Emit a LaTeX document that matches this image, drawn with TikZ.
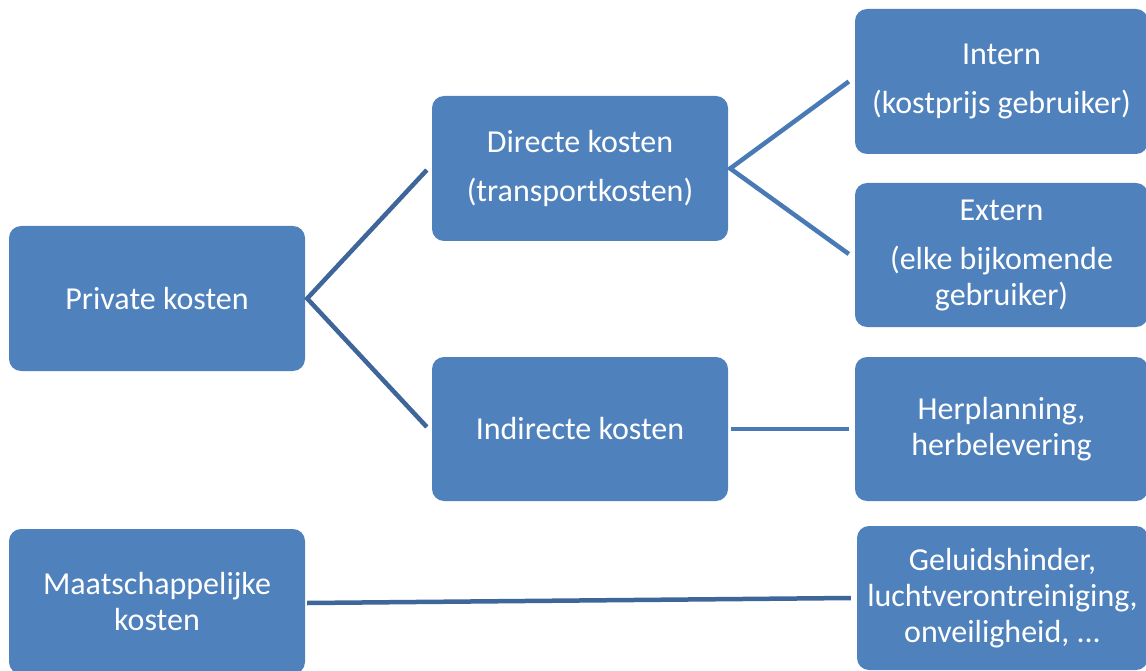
\documentclass[tikz,border=0pt]{standalone}
\usepackage{fontspec}
\setmainfont{Carlito}
\definecolor{boxblue}{HTML}{4F81BD}
\definecolor{linedark}{HTML}{3E6699}
\definecolor{linelight}{HTML}{4A7AB6}
\begin{document}
\begin{tikzpicture}[x=1pt,y=-1pt,
  box/.style={rectangle, rounded corners=12pt, fill=boxblue, draw=none,
    text=white, align=center, inner sep=0pt,
    font=\fontsize{32}{36}\selectfont},
  conn/.style={line width=4.5pt},
]
\clip (0,0) rectangle (1146,671);
\fill[white] (0,0) rectangle (1146,671);
% nodes
\node[box, minimum width=296pt, minimum height=145pt] (p) at (157,298.5) {Private kosten};
\node[box, minimum width=296pt, minimum height=145pt] (d) at (580,168.5) {Directe kosten\\[13pt](transportkosten)};
\node[box, minimum width=296pt, minimum height=144pt] (i) at (580,429) {Indirecte kosten};
\node[box, minimum width=296pt, minimum height=145pt] (m) at (157,601.5) {Maatschappelijke\\kosten};
\node[box, minimum width=293pt, minimum height=145pt] (in) at (1001.5,81.5) {Intern\\[13pt](kostprijs gebruiker)};
\node[box, minimum width=293pt, minimum height=144pt] (ex) at (1001.5,255) {Extern\\[13pt](elke bijkomende\\gebruiker)};
\node[box, minimum width=293pt, minimum height=144pt] (h) at (1001.5,429) {Herplanning,\\herbelevering};
\node[box, minimum width=291pt, minimum height=144pt] (g) at (1002.5,598) {Geluidshinder,\\luchtverontreiniging,\\onveiligheid, ...};
% connectors
\draw[conn, linedark] ([xshift=-5pt,yshift=-1.5pt]d.west) -- ([xshift=2pt]p.east) -- ([xshift=-5pt,yshift=2pt]i.west);
\draw[conn, linelight] ([xshift=-6pt]in.west) -- ([xshift=2pt]d.east) -- ([xshift=-6pt,yshift=1pt]ex.west);
\draw[conn, linelight] ([xshift=3pt]i.east) -- ([xshift=-6pt]h.west);
\draw[conn, linedark] ([xshift=2pt,yshift=-1.5pt]m.east) -- ([xshift=-6pt]g.west);
\end{tikzpicture}
\end{document}
